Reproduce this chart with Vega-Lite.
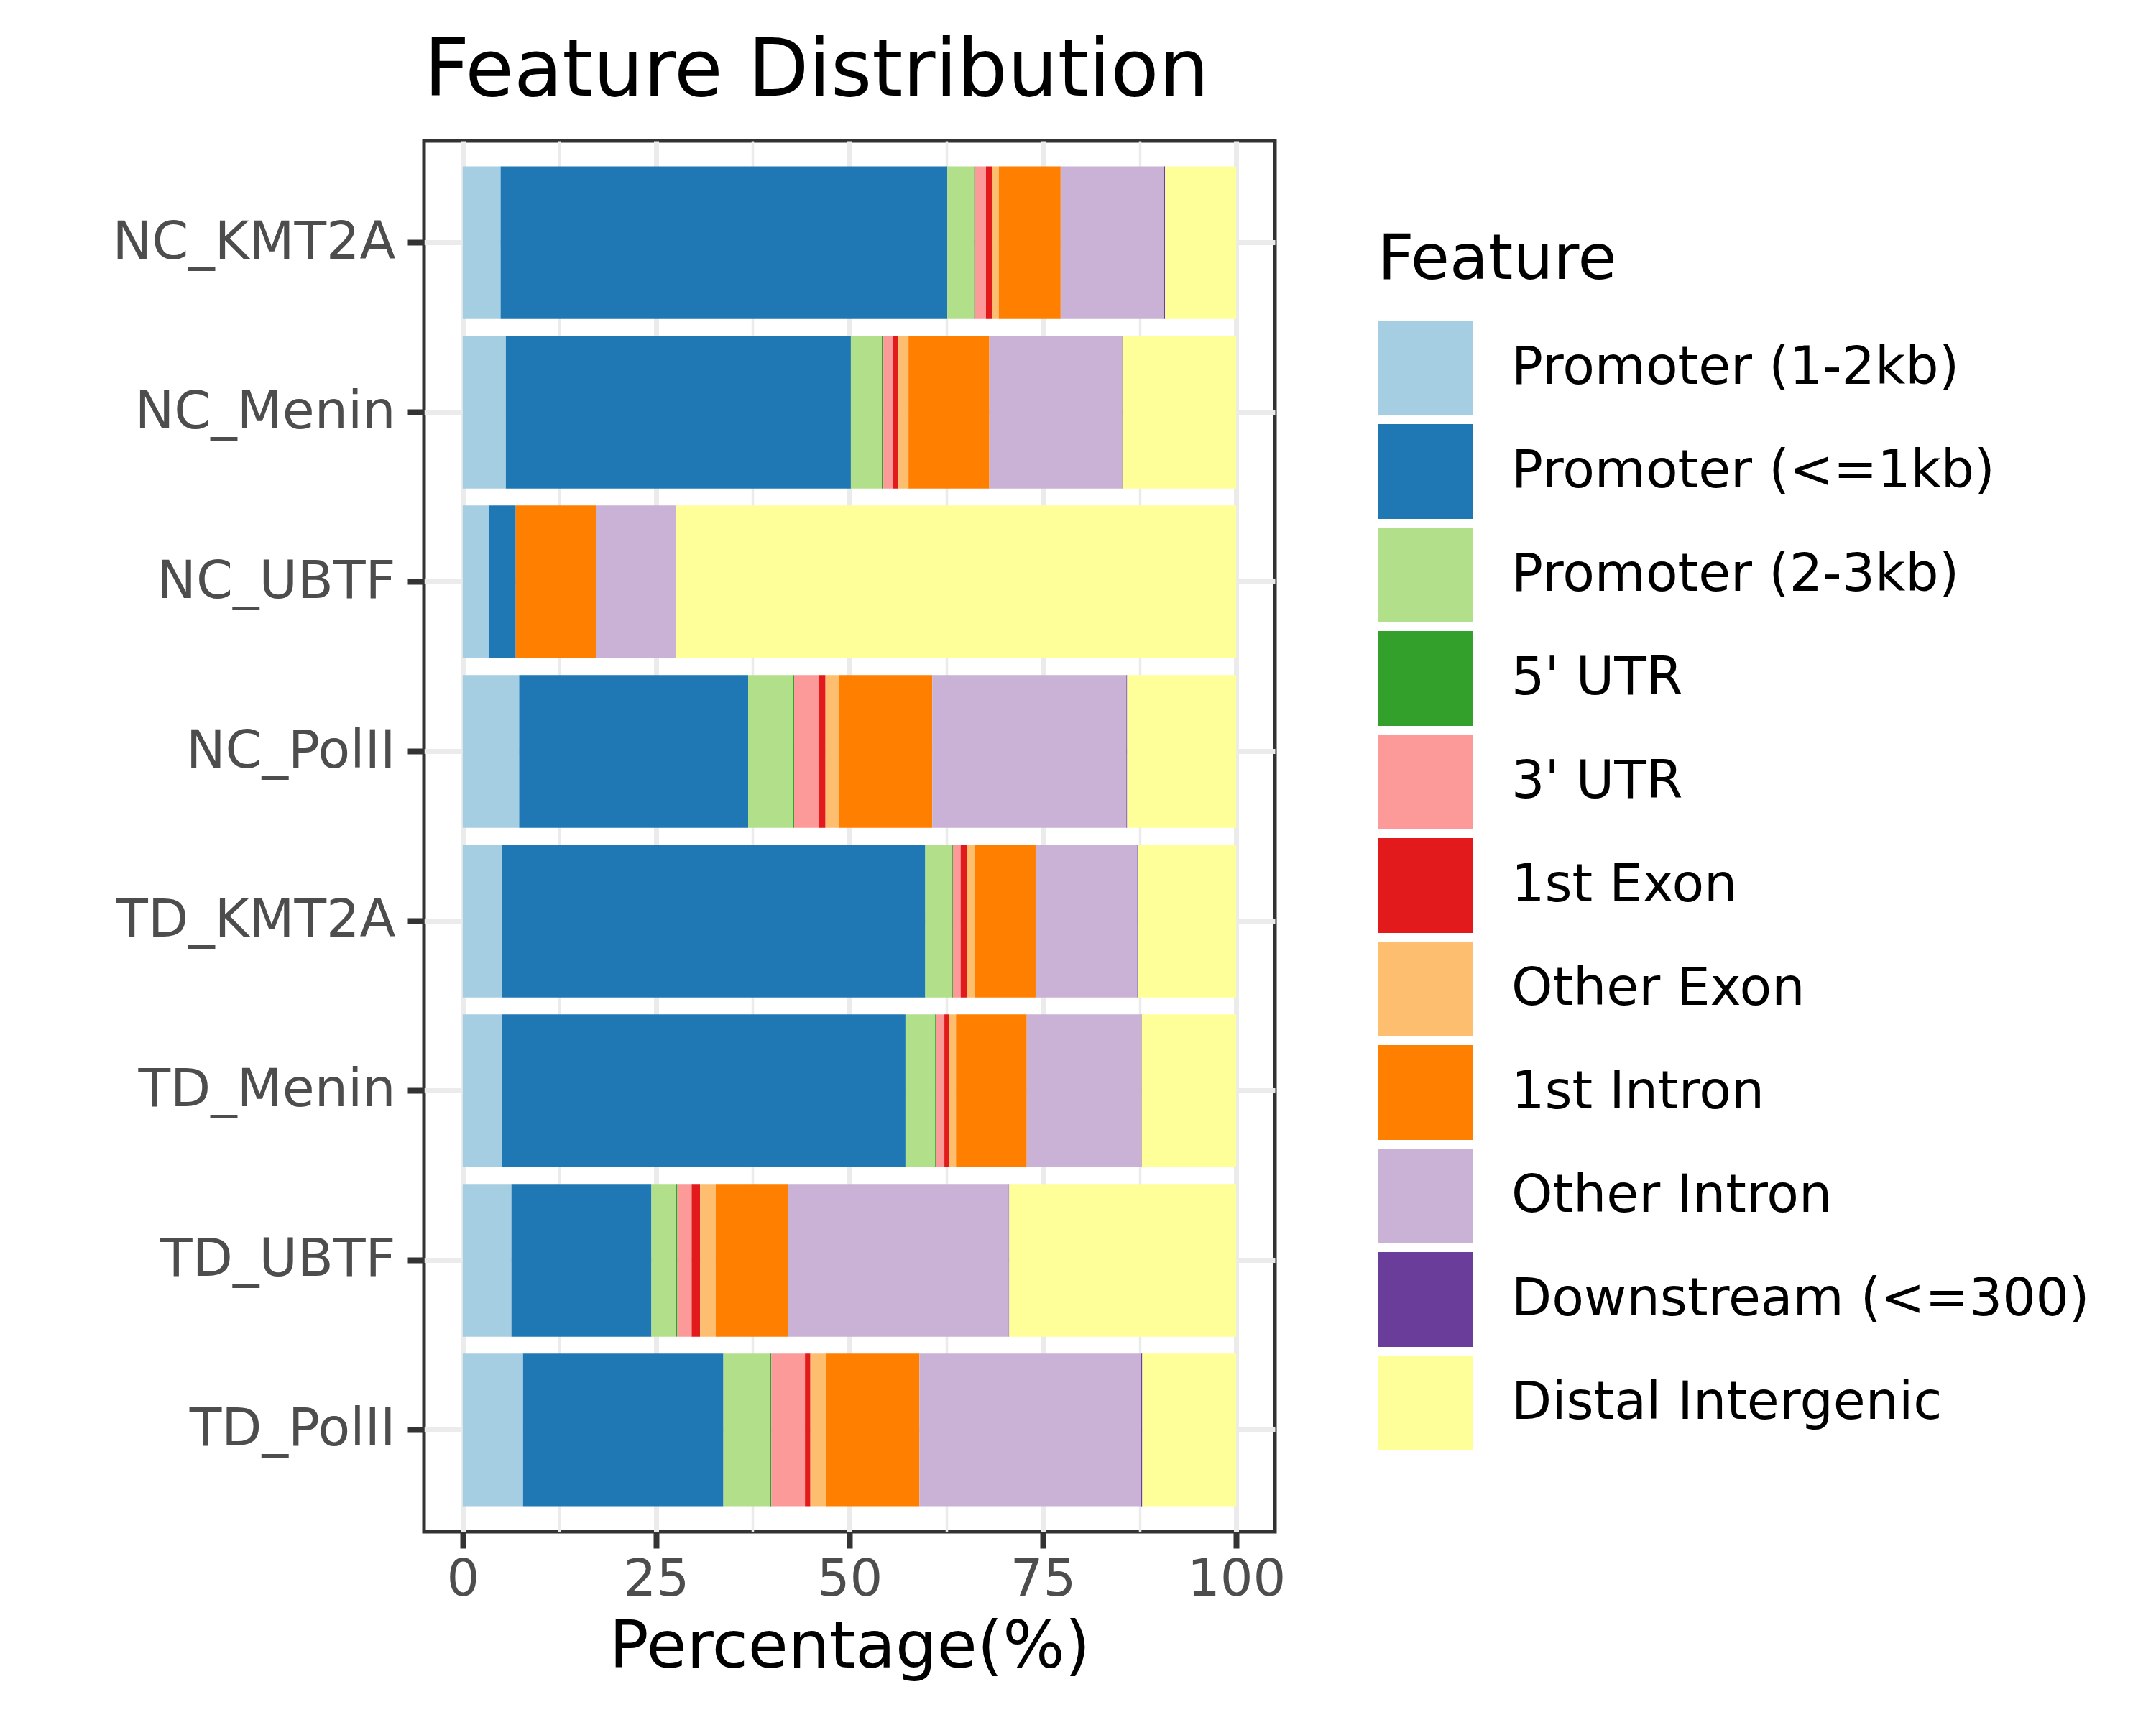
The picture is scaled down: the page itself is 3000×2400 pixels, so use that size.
{
  "$schema": "https://vega.github.io/schema/vega-lite/v6.json",
  "width": 1184,
  "height": 1935,
  "autosize": {"type": "none"},
  "padding": {"left": 590, "top": 196, "right": 1226, "bottom": 269},
  "background": "white",
  "title": {
    "text": "Feature Distribution",
    "anchor": "start",
    "frame": "group",
    "fontSize": 110,
    "fontWeight": "normal",
    "font": "DejaVu Sans",
    "color": "#000000",
    "offset": 40
  },
  "config": {
    "font": "DejaVu Sans",
    "view": {"stroke": "#333333", "strokeWidth": 5}
  },
  "data": {
    "values": [
      {"Sample": "NC_KMT2A", "Feature": "Promoter (1-2kb)", "Percentage": 4.9},
      {"Sample": "NC_KMT2A", "Feature": "Promoter (<=1kb)", "Percentage": 57.75},
      {"Sample": "NC_KMT2A", "Feature": "Promoter (2-3kb)", "Percentage": 3.45},
      {"Sample": "NC_KMT2A", "Feature": "5' UTR", "Percentage": 0.05},
      {"Sample": "NC_KMT2A", "Feature": "3' UTR", "Percentage": 1.5},
      {"Sample": "NC_KMT2A", "Feature": "1st Exon", "Percentage": 0.75},
      {"Sample": "NC_KMT2A", "Feature": "Other Exon", "Percentage": 0.9},
      {"Sample": "NC_KMT2A", "Feature": "1st Intron", "Percentage": 8.0},
      {"Sample": "NC_KMT2A", "Feature": "Other Intron", "Percentage": 13.3},
      {"Sample": "NC_KMT2A", "Feature": "Downstream (<=300)", "Percentage": 0.2},
      {"Sample": "NC_KMT2A", "Feature": "Distal Intergenic", "Percentage": 9.2},

      {"Sample": "NC_Menin", "Feature": "Promoter (1-2kb)", "Percentage": 5.58},
      {"Sample": "NC_Menin", "Feature": "Promoter (<=1kb)", "Percentage": 44.6},
      {"Sample": "NC_Menin", "Feature": "Promoter (2-3kb)", "Percentage": 4.0},
      {"Sample": "NC_Menin", "Feature": "5' UTR", "Percentage": 0.2},
      {"Sample": "NC_Menin", "Feature": "3' UTR", "Percentage": 1.2},
      {"Sample": "NC_Menin", "Feature": "1st Exon", "Percentage": 0.75},
      {"Sample": "NC_Menin", "Feature": "Other Exon", "Percentage": 1.3},
      {"Sample": "NC_Menin", "Feature": "1st Intron", "Percentage": 10.45},
      {"Sample": "NC_Menin", "Feature": "Other Intron", "Percentage": 17.15},
      {"Sample": "NC_Menin", "Feature": "Downstream (<=300)", "Percentage": 0.05},
      {"Sample": "NC_Menin", "Feature": "Distal Intergenic", "Percentage": 14.72},

      {"Sample": "NC_UBTF", "Feature": "Promoter (1-2kb)", "Percentage": 3.43},
      {"Sample": "NC_UBTF", "Feature": "Promoter (<=1kb)", "Percentage": 3.43},
      {"Sample": "NC_UBTF", "Feature": "Promoter (2-3kb)", "Percentage": 0},
      {"Sample": "NC_UBTF", "Feature": "5' UTR", "Percentage": 0},
      {"Sample": "NC_UBTF", "Feature": "3' UTR", "Percentage": 0},
      {"Sample": "NC_UBTF", "Feature": "1st Exon", "Percentage": 0},
      {"Sample": "NC_UBTF", "Feature": "Other Exon", "Percentage": 0},
      {"Sample": "NC_UBTF", "Feature": "1st Intron", "Percentage": 10.41},
      {"Sample": "NC_UBTF", "Feature": "Other Intron", "Percentage": 10.34},
      {"Sample": "NC_UBTF", "Feature": "Downstream (<=300)", "Percentage": 0},
      {"Sample": "NC_UBTF", "Feature": "Distal Intergenic", "Percentage": 72.39},

      {"Sample": "NC_PolII", "Feature": "Promoter (1-2kb)", "Percentage": 7.3},
      {"Sample": "NC_PolII", "Feature": "Promoter (<=1kb)", "Percentage": 29.6},
      {"Sample": "NC_PolII", "Feature": "Promoter (2-3kb)", "Percentage": 5.8},
      {"Sample": "NC_PolII", "Feature": "5' UTR", "Percentage": 0.15},
      {"Sample": "NC_PolII", "Feature": "3' UTR", "Percentage": 3.2},
      {"Sample": "NC_PolII", "Feature": "1st Exon", "Percentage": 0.85},
      {"Sample": "NC_PolII", "Feature": "Other Exon", "Percentage": 1.8},
      {"Sample": "NC_PolII", "Feature": "1st Intron", "Percentage": 12.0},
      {"Sample": "NC_PolII", "Feature": "Other Intron", "Percentage": 25.1},
      {"Sample": "NC_PolII", "Feature": "Downstream (<=300)", "Percentage": 0.1},
      {"Sample": "NC_PolII", "Feature": "Distal Intergenic", "Percentage": 14.1},

      {"Sample": "TD_KMT2A", "Feature": "Promoter (1-2kb)", "Percentage": 5.1},
      {"Sample": "TD_KMT2A", "Feature": "Promoter (<=1kb)", "Percentage": 54.7},
      {"Sample": "TD_KMT2A", "Feature": "Promoter (2-3kb)", "Percentage": 3.45},
      {"Sample": "TD_KMT2A", "Feature": "5' UTR", "Percentage": 0.12},
      {"Sample": "TD_KMT2A", "Feature": "3' UTR", "Percentage": 1.0},
      {"Sample": "TD_KMT2A", "Feature": "1st Exon", "Percentage": 0.83},
      {"Sample": "TD_KMT2A", "Feature": "Other Exon", "Percentage": 1.0},
      {"Sample": "TD_KMT2A", "Feature": "1st Intron", "Percentage": 7.86},
      {"Sample": "TD_KMT2A", "Feature": "Other Intron", "Percentage": 13.15},
      {"Sample": "TD_KMT2A", "Feature": "Downstream (<=300)", "Percentage": 0.1},
      {"Sample": "TD_KMT2A", "Feature": "Distal Intergenic", "Percentage": 12.69},

      {"Sample": "TD_Menin", "Feature": "Promoter (1-2kb)", "Percentage": 5.1},
      {"Sample": "TD_Menin", "Feature": "Promoter (<=1kb)", "Percentage": 52.14},
      {"Sample": "TD_Menin", "Feature": "Promoter (2-3kb)", "Percentage": 3.83},
      {"Sample": "TD_Menin", "Feature": "5' UTR", "Percentage": 0.08},
      {"Sample": "TD_Menin", "Feature": "3' UTR", "Percentage": 1.12},
      {"Sample": "TD_Menin", "Feature": "1st Exon", "Percentage": 0.58},
      {"Sample": "TD_Menin", "Feature": "Other Exon", "Percentage": 0.92},
      {"Sample": "TD_Menin", "Feature": "1st Intron", "Percentage": 9.15},
      {"Sample": "TD_Menin", "Feature": "Other Intron", "Percentage": 14.81},
      {"Sample": "TD_Menin", "Feature": "Downstream (<=300)", "Percentage": 0.05},
      {"Sample": "TD_Menin", "Feature": "Distal Intergenic", "Percentage": 12.22},

      {"Sample": "TD_UBTF", "Feature": "Promoter (1-2kb)", "Percentage": 6.3},
      {"Sample": "TD_UBTF", "Feature": "Promoter (<=1kb)", "Percentage": 18.1},
      {"Sample": "TD_UBTF", "Feature": "Promoter (2-3kb)", "Percentage": 3.2},
      {"Sample": "TD_UBTF", "Feature": "5' UTR", "Percentage": 0.15},
      {"Sample": "TD_UBTF", "Feature": "3' UTR", "Percentage": 1.85},
      {"Sample": "TD_UBTF", "Feature": "1st Exon", "Percentage": 1.1},
      {"Sample": "TD_UBTF", "Feature": "Other Exon", "Percentage": 2.0},
      {"Sample": "TD_UBTF", "Feature": "1st Intron", "Percentage": 9.4},
      {"Sample": "TD_UBTF", "Feature": "Other Intron", "Percentage": 28.5},
      {"Sample": "TD_UBTF", "Feature": "Downstream (<=300)", "Percentage": 0.05},
      {"Sample": "TD_UBTF", "Feature": "Distal Intergenic", "Percentage": 29.35},

      {"Sample": "TD_PolII", "Feature": "Promoter (1-2kb)", "Percentage": 7.8},
      {"Sample": "TD_PolII", "Feature": "Promoter (<=1kb)", "Percentage": 25.9},
      {"Sample": "TD_PolII", "Feature": "Promoter (2-3kb)", "Percentage": 6.0},
      {"Sample": "TD_PolII", "Feature": "5' UTR", "Percentage": 0.2},
      {"Sample": "TD_PolII", "Feature": "3' UTR", "Percentage": 4.35},
      {"Sample": "TD_PolII", "Feature": "1st Exon", "Percentage": 0.7},
      {"Sample": "TD_PolII", "Feature": "Other Exon", "Percentage": 2.0},
      {"Sample": "TD_PolII", "Feature": "1st Intron", "Percentage": 12.1},
      {"Sample": "TD_PolII", "Feature": "Other Intron", "Percentage": 28.6},
      {"Sample": "TD_PolII", "Feature": "Downstream (<=300)", "Percentage": 0.2},
      {"Sample": "TD_PolII", "Feature": "Distal Intergenic", "Percentage": 12.15}
    ]
  },
  "transform": [
    {
      "calculate": "indexof(['Promoter (1-2kb)', 'Promoter (<=1kb)', 'Promoter (2-3kb)', \"5' UTR\", \"3' UTR\", '1st Exon', 'Other Exon', '1st Intron', 'Other Intron', 'Downstream (<=300)', 'Distal Intergenic'], datum.Feature)",
      "as": "FeatureOrder"
    }
  ],
  "mark": {"type": "bar"},
  "encoding": {
    "y": {
      "field": "Sample",
      "type": "nominal",
      "sort": ["NC_KMT2A", "NC_Menin", "NC_UBTF", "NC_PolII", "TD_KMT2A", "TD_Menin", "TD_UBTF", "TD_PolII"],
      "scale": {"paddingInner": 0.1, "paddingOuter": 0.15},
      "axis": {
        "title": null,
        "domain": false,
        "grid": true,
        "gridColor": "#EBEBEB",
        "gridWidth": 7,
        "ticks": true,
        "tickColor": "#333333",
        "tickWidth": 8,
        "tickSize": 23,
        "labelFontSize": 73,
        "labelColor": "#4D4D4D",
        "labelPadding": 17,
        "labelLimit": 1000,
        "labelFont": "DejaVu Sans"
      }
    },
    "x": {
      "field": "Percentage",
      "type": "quantitative",
      "stack": "zero",
      "scale": {"domain": [-5, 105], "nice": false, "zero": false},
      "axis": {
        "title": "Percentage(%)",
        "titleFontSize": 91,
        "titleFontWeight": "normal",
        "titleColor": "#000000",
        "titleFont": "DejaVu Sans",
        "titlePadding": 14,
        "domain": false,
        "values": [0, 12.5, 25, 37.5, 50, 62.5, 75, 87.5, 100],
        "labelExpr": "datum.value % 25 === 0 ? datum.label : ''",
        "grid": true,
        "gridColor": "#EBEBEB",
        "gridWidth": {"condition": {"test": "datum.value % 25 === 0", "value": 7}, "value": 3.5},
        "tickColor": "#333333",
        "tickOpacity": {"condition": {"test": "datum.value % 25 === 0", "value": 1}, "value": 0},
        "tickWidth": 8,
        "tickSize": 23,
        "labelFontSize": 72,
        "labelColor": "#4D4D4D",
        "labelPadding": 8,
        "labelFont": "DejaVu Sans",
        "labelFlush": false
      }
    },
    "color": {
      "field": "Feature",
      "type": "nominal",
      "scale": {
        "domain": ["Promoter (1-2kb)", "Promoter (<=1kb)", "Promoter (2-3kb)", "5' UTR", "3' UTR", "1st Exon", "Other Exon", "1st Intron", "Other Intron", "Downstream (<=300)", "Distal Intergenic"],
        "range": ["#A6CEE3", "#1F78B4", "#B2DF8A", "#33A02C", "#FB9A99", "#E31A1C", "#FDBF6F", "#FF7F00", "#CAB2D6", "#6A3D9A", "#FFFF99"]
      },
      "legend": {
        "title": "Feature",
        "orient": "none",
        "legendX": 1327,
        "legendY": 122,
        "titleFontSize": 88,
        "titleFontWeight": "normal",
        "titleColor": "#000000",
        "titleFont": "DejaVu Sans",
        "titleLimit": 1000,
        "titlePadding": 40,
        "labelFontSize": 73,
        "labelColor": "#000000",
        "labelFont": "DejaVu Sans",
        "labelOffset": 54,
        "labelLimit": 1200,
        "symbolType": "square",
        "symbolSize": 17424,
        "symbolStrokeWidth": 0,
        "symbolOpacity": 1,
        "rowPadding": 12,
        "padding": 0
      }
    },
    "order": {"field": "FeatureOrder", "type": "quantitative", "sort": "ascending"}
  }
}
